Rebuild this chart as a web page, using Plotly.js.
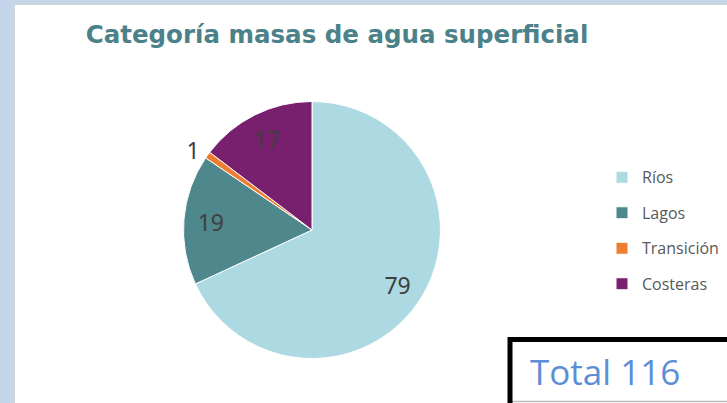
<!DOCTYPE html>
<html>
<head>
<meta charset="utf-8">
<script src="https://cdn.plot.ly/plotly-3.0.1.min.js"></script>
<style>html,body{margin:0;padding:0;background:#c5d5ea;}#chart{width:727px;height:403px;}</style>
</head>
<body>
<div id="chart"></div>
<script>
const categories = ['Ríos', 'Lagos', 'Transición', 'Costeras'];
const counts = [79, 19, 1, 17];
const sliceColors = ['#add9e3', '#4e878c', '#ed7d31', '#781f6d'];
const labelPositions = ['inside', 'inside', 'outside', 'inside'];
const chartTitle = 'Categoría masas de agua superficial';
const totalLabel = 'Total';

const total = counts.reduce((a, b) => a + b, 0);
const legendLabels = categories.map(c => '<span style="font-size:16px;baseline-shift:4px">' + c + '</span>');

const W = 727, H = 403;
const px = x => x / W;
const py = y => 1 - y / H;
const pieDomain = {x: [px(183.5), px(440.5)], y: [py(358.5), py(101.5)]};
const labelFont = {family: 'Noto Sans', size: 23, color: '#404040'};

const data = [{
  type: 'pie',
  labels: legendLabels,
  values: counts,
  sort: false,
  direction: 'clockwise',
  rotation: 0,
  marker: {colors: sliceColors, line: {color: '#ffffff', width: 1}},
  textinfo: 'none',
  hoverinfo: 'label+value',
  domain: pieDomain
}, {
  // transparent ring that carries the value labels, so they sit near the outer part of each slice
  type: 'pie',
  labels: legendLabels,
  values: counts,
  sort: false,
  direction: 'clockwise',
  rotation: 0,
  hole: 0.58,
  showlegend: false,
  marker: {colors: categories.map(() => 'rgba(0,0,0,0)'), line: {width: 0}},
  textinfo: 'value',
  textposition: labelPositions,
  insidetextorientation: 'horizontal',
  textfont: labelFont,
  insidetextfont: labelFont,
  outsidetextfont: labelFont,
  hoverinfo: 'skip',
  domain: pieDomain
}];

const layout = {
  width: W, height: H,
  margin: {l: 0, r: 0, t: 0, b: 0},
  paper_bgcolor: '#c5d5ea',
  plot_bgcolor: '#ffffff',
  title: {
    text: chartTitle,
    font: {family: 'DejaVu Sans', size: 24.5, weight: 'bold', color: '#4b8189'},
    x: px(337), xanchor: 'center', xref: 'paper',
    y: py(34), yanchor: 'middle', yref: 'paper'
  },
  showlegend: true,
  legend: {
    x: px(602), xanchor: 'left',
    y: py(230.5), yanchor: 'middle',
    font: {family: 'Open Sans', size: 25, color: '#595959'},
    bgcolor: 'rgba(0,0,0,0)',
    itemclick: false
  },
  shapes: [
    {type: 'rect', xref: 'paper', yref: 'paper', layer: 'below',
     x0: px(14.5), x1: px(740), y0: py(4.5), y1: py(420),
     fillcolor: '#ffffff', line: {color: '#d4d4d4', width: 1}},
    {type: 'line', xref: 'paper', yref: 'paper', layer: 'above',
     x0: px(512), x1: px(727), y0: py(401.5), y1: py(401.5),
     line: {color: '#bdbdbd', width: 1.5}},
    {type: 'rect', xref: 'paper', yref: 'paper', layer: 'above',
     x0: px(510), x1: px(745), y0: py(339.5), y1: py(420),
     fillcolor: 'rgba(0,0,0,0)', line: {color: '#000000', width: 5}}
  ],
  annotations: [{
    xref: 'paper', yref: 'paper',
    x: px(604.5), y: py(371), xanchor: 'center', yanchor: 'middle',
    text: totalLabel + ' ' + total,
    showarrow: false,
    font: {family: 'Open Sans', size: 35, color: '#5b8ed6'}
  }]
};

Plotly.newPlot('chart', data, layout, {displayModeBar: false, staticPlot: true});
</script>
</body>
</html>
